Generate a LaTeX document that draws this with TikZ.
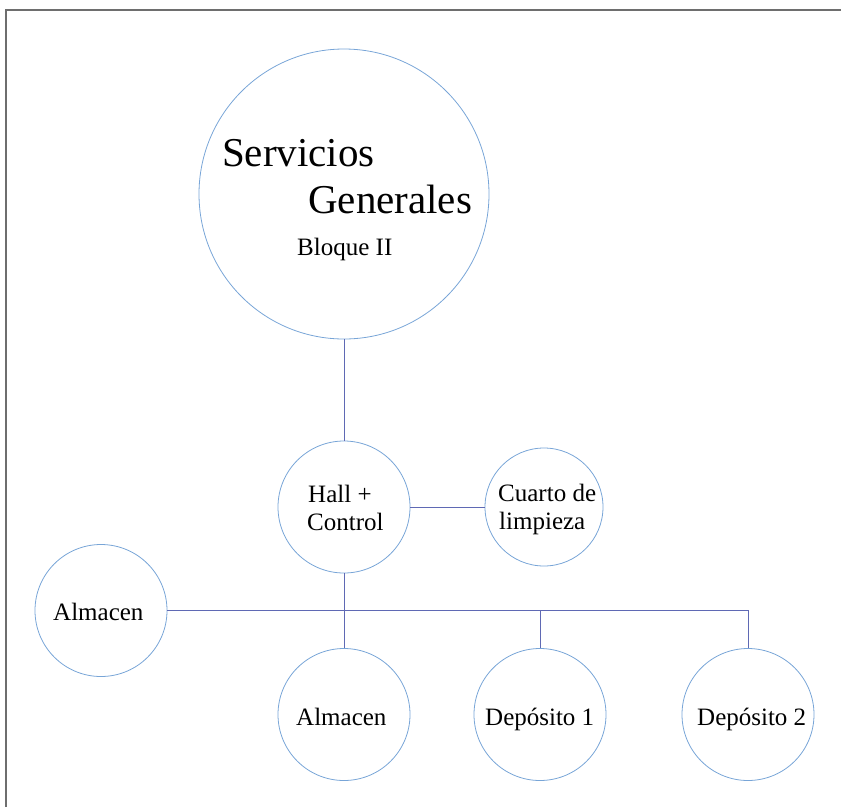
\documentclass[tikz,border=0pt]{standalone}
\usepackage{fontspec}
\setmainfont{Liberation Serif}
\definecolor{circ}{RGB}{120,165,215}
\definecolor{conn}{RGB}{95,105,180}
\definecolor{frame}{RGB}{110,110,110}
\begin{document}
\begin{tikzpicture}[x=1pt,y=-1pt,
  bubble/.style={circle,draw=circ,line width=0.8pt,inner sep=0pt,minimum size=#1},
  conline/.style={draw=conn,line width=0.9pt},
  lbl/.style={inner sep=0pt,anchor=base west,font=\fontsize{25}{28}\selectfont},
  biglbl/.style={inner sep=0pt,anchor=base west,font=\fontsize{41}{46}\selectfont}]
\useasboundingbox (0,0) rectangle (841,807);
% frame
\coordinate (f1) at (6,807);
\coordinate (f2) at (6,10);
\coordinate (f3) at (841,10);
\draw[frame,line width=1.2pt] (f1) -- (f2) -- (f3);
% circles
\node[bubble=290pt] (sg) at (344,194) {};
\node[bubble=132pt] (hall) at (344,507) {};
\node[bubble=118pt] (cuarto) at (544,507) {};
\node[bubble=132pt] (alm1) at (101,610.5) {};
\node[bubble=132pt] (alm2) at (344,714.5) {};
\node[bubble=132pt] (dep1) at (540,714.5) {};
\node[bubble=132pt] (dep2) at (748,714.5) {};
% texts
\node[biglbl] (t1) at (222,166) {Servicios};
\node[biglbl] (t2) at (308,213) {Generales};
\node[lbl] (t3) at (297,255) {Bloque II};
\node[lbl] (t4) at (308,502) {Hall +};
\node[lbl] (t5) at (307,530) {Control};
\node[lbl] (t6) at (498,501) {Cuarto de};
\node[lbl] (t7) at (499,529) {limpieza};
\node[lbl] (t8) at (53,620.5) {Almacen};
\node[lbl] (t9) at (296,725) {Almacen};
\node[lbl] (t10) at (485,725) {Depósito 1};
\node[lbl] (t11) at (697,725) {Depósito 2};
% connectors
\draw[conline] (sg.south) -- (hall.north);
\draw[conline] (hall.east) -- (cuarto.west);
\draw[conline] (hall.south) -- (alm2.north);
\coordinate (jr) at (dep2.north |- alm1.east);
\draw[conline] (alm1.east) -- (jr) -- (dep2.north);
\draw[conline] (dep1.north |- alm1.east) -- (dep1.north);
\end{tikzpicture}
\end{document}
